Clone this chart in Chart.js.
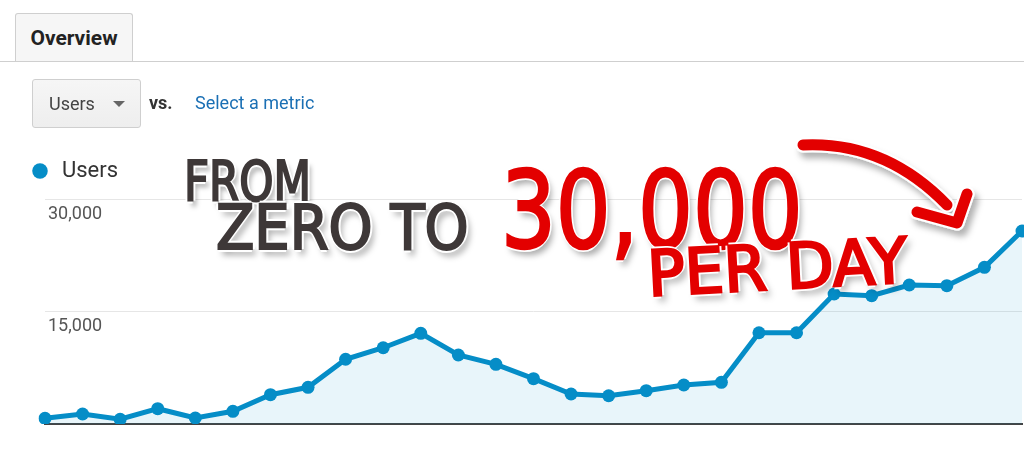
<!DOCTYPE html>
<html>
<head>
<meta charset="utf-8">
<script src="https://cdn.jsdelivr.net/npm/chart.js@4/dist/chart.umd.min.js"></script>
<style>
  html, body { margin: 0; padding: 0; background: #fff; }
  body { width: 1024px; height: 465px; position: relative; overflow: hidden; font-family: Roboto, "Noto Sans", sans-serif; }
  #myChart { position: absolute; left: 0; top: 0; }
  .tab { position: absolute; left: 15px; top: 13px; width: 118px; height: 48px; background: #f6f6f6;
         border: 1px solid #cfcfcf; border-bottom: none; border-radius: 3px 3px 0 0; box-sizing: border-box;
         font-weight: bold; font-size: 21px; color: #222; line-height: 48px; text-align: center; }
  .rule { position: absolute; left: 0; top: 61px; width: 1024px; height: 1px; background: #cfcfcf; }
  .drop { position: absolute; left: 32px; top: 79px; width: 109px; height: 49px; box-sizing: border-box;
          border: 1px solid #cfcfcf; border-radius: 3px; background: linear-gradient(#f6f6f6, #eeeeee); }
  .drop span { position: absolute; left: 16px; top: 13px; font-size: 18px; color: #444; }
  .drop i { position: absolute; left: 80px; top: 21px; width: 0; height: 0;
            border-left: 6px solid transparent; border-right: 6px solid transparent; border-top: 6px solid #666; }
  .vs { position: absolute; left: 149px; top: 92px; font-size: 18px; font-weight: bold; color: #333; }
  .metric { position: absolute; left: 195px; top: 92px; font-size: 18px; color: #1a6fb4; }
  .note { position: absolute; white-space: nowrap; line-height: 1; transform-origin: 0 0;
          font-family: "DejaVu Sans Condensed", "DejaVu Sans", sans-serif; font-weight: normal; }
  .dark { color: #3e3838; -webkit-text-stroke: 2px #3e3838;
          text-shadow: -3px 0 #fff, 3px 0 #fff, 0 -3px #fff, 0 3px #fff, 4px 6px 6px rgba(0,0,0,0.35); }
  .red { color: #e30000; -webkit-text-stroke: 2.5px #e30000;
         text-shadow: -3px 0 #fff, 3px 0 #fff, 0 -3px #fff, 0 3px #fff, 4px 6px 7px rgba(0,0,0,0.35); }
  svg { position: absolute; left: 0; top: 0; }
</style>
</head>
<body>
<canvas id="myChart" width="1024" height="465"></canvas>
<div class="tab">Overview</div>
<div class="rule"></div>
<div class="drop"><span>Users</span><i></i></div>
<div class="vs">vs.</div>
<div class="metric">Select a metric</div>

<svg width="1024" height="465">
  <defs>
    <filter id="sh" x="-20%" y="-20%" width="140%" height="160%">
      <feDropShadow dx="4" dy="6" stdDeviation="3" flood-color="#000" flood-opacity="0.3"/>
    </filter>
  </defs>
  <g filter="url(#sh)" fill="none" stroke-linecap="round" stroke-linejoin="round">
    <path d="M803,145 Q885,141 947,205" stroke="#fff" stroke-width="15"/>
    <path d="M917,212 L957,223 L967,194" stroke="#fff" stroke-width="15"/>
    <path d="M803,145 Q885,141 947,205" stroke="#e30000" stroke-width="11"/>
    <path d="M917,212 L957,223 L967,194" stroke="#e30000" stroke-width="11"/>
  </g>
</svg>

<div class="note dark" data-l="184" data-t="160" data-w="127" data-h="40">FROM</div>
<div class="note dark" data-l="216" data-t="205" data-w="253" data-h="45">ZERO TO</div>
<div class="note red" data-l="501" data-t="170" data-w="302" data-h="78">30,000</div>
<div class="note red" data-l="646" data-t="250" data-w="260" data-h="46" data-r="-3">PER DAY</div>

<script>
// daily users
var days = ['1','2','3','4','5','6','7','8','9','10','11','12','13','14','15','16','17','18','19','20','21','22','23','24','25','26','27']
var users = [760, 1330, 630, 2040, 800, 1690, 3910, 4890, 8630, 10170, 12090, 9200, 7960, 6040,
             4000, 3770, 4440, 5200, 5560, 12170, 12170, 17330, 17110, 18530, 18440, 20890, 25730]
var yTicks = [15000, 30000]

var blue = '#058dc7'

// handwritten-ish notes: fit each one to its box
document.querySelectorAll('.note').forEach(function(el){
    var h = +el.dataset.h
    var f = h / 0.729
    el.style.fontSize = f + 'px'
    var w = el.offsetWidth
    var sx = +el.dataset.w / w
    el.style.left = el.dataset.l + 'px'
    el.style.top = (+el.dataset.t - 0.117 * f) + 'px'
    el.style.transform = 'rotate(' + (el.dataset.r || 0) + 'deg) scaleX(' + sx + ')'
})

var legendHeight = {
    id: 'legendHeight',
    beforeInit(chart){
        var fit = chart.legend.fit
        chart.legend.fit = function(){
            fit.bind(chart.legend)()
            this.height = 199 - 150
        }
    }
}

var ctx = document.getElementById('myChart').getContext('2d')
var chart = new Chart(ctx, {
    type: 'line',
    data: {
        labels: days,
        datasets: [{
            label: 'Users',
            data: users,
            borderColor: blue,
            backgroundColor: 'rgba(5, 141, 199, 0.09)',
            pointBackgroundColor: blue,
            pointBorderColor: blue,
            borderWidth: 5,
            pointRadius: 6.5,
            pointBorderWidth: 0,
            tension: 0,
            fill: 'origin'
        }]
    },
    options: {
        responsive: false,
        animation: false,
        layout: { autoPadding: false, padding: { left: 19, right: 2, top: 150, bottom: 33 } },
        plugins: {
            tooltip: { enabled: false },
            legend: {
                align: 'start',
                labels: {
                    usePointStyle: true,
                    pointStyle: 'circle',
                    boxWidth: 22,
                    boxHeight: 11,
                    padding: 10,
                    color: '#333',
                    font: { family: 'Roboto', size: 22 }
                }
            }
        },
        scales: {
            x: {
                ticks: { display: false },
                grid: { display: false },
                border: { display: true, color: '#444', width: 2 }
            },
            y: {
                min: 0,
                max: 30000,
                afterBuildTicks: function(s){ s.ticks = yTicks.map(function(v){ return { value: v } }) },
                afterFit: function(s){ s.width = 26 },
                ticks: {
                    mirror: true,
                    padding: 3,
                    labelOffset: 15,
                    color: '#555',
                    font: { family: 'Roboto', size: 18 },
                    callback: function(v){ return v.toLocaleString('en-US') }
                },
                grid: { color: '#e6e6e6', drawTicks: false },
                border: { display: false }
            }
        }
    },
    plugins: [legendHeight]
})
</script>
</body>
</html>
